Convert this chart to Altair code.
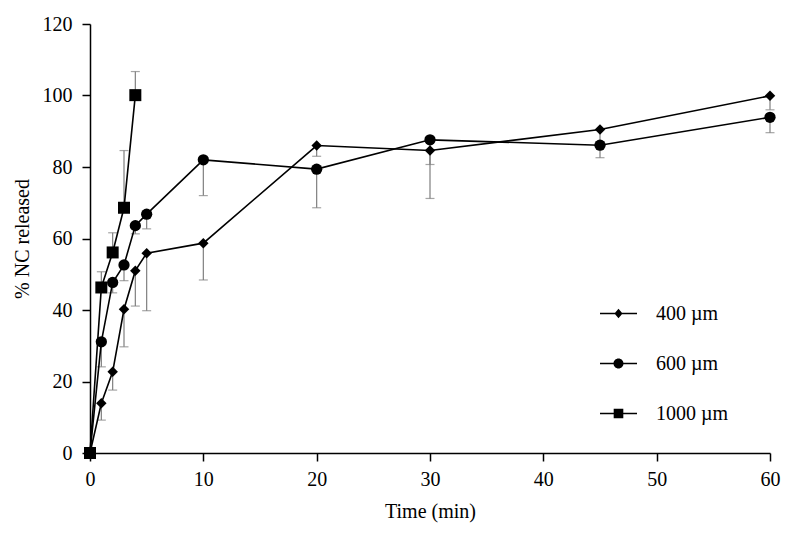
import altair as alt
import pandas as pd

# ---- data ----
series_names = ["400 µm", "600 µm", "1000 µm"]

time_400 = [0, 1, 2, 3, 4, 5, 10, 20, 30, 45, 60]
pct_400 = [0, 13.9, 22.7, 40.2, 51.0, 55.9, 58.7, 86.0, 84.6, 90.5, 99.9]
err_400 = [0, 9.2, 17.6, 29.7, 41.1, 39.8, 48.4, 83.0, 80.7, 87.0, 96.0]

time_600 = [0, 1, 2, 3, 4, 5, 10, 20, 30, 45, 60]
pct_600 = [0, 31.1, 47.7, 52.6, 63.6, 66.8, 82.0, 79.4, 87.6, 86.1, 93.9]
err_600 = [0, 24.1, 44.8, 48.2, 61.3, 62.7, 72.0, 68.6, 71.2, 82.6, 89.6]

time_1000 = [0, 1, 2, 3, 4]
pct_1000 = [0, 46.3, 56.1, 68.6, 100.1]
err_1000 = [0, 50.7, 61.6, 84.6, 106.7]

x_ticks = [0, 10, 20, 30, 40, 50, 60]
y_ticks = [0, 20, 40, 60, 80, 100, 120]

rows = []
for name, ts, ps, es in [
    (series_names[0], time_400, pct_400, err_400),
    (series_names[1], time_600, pct_600, err_600),
    (series_names[2], time_1000, pct_1000, err_1000),
]:
    for t, p, e in zip(ts, ps, es):
        rows.append({"series": name, "time": t, "pct": p, "err": e})
df = pd.DataFrame(rows)

FONT = "Liberation Serif"

x_enc = alt.X("time:Q", scale=alt.Scale(domain=[0, 60], nice=False),
              axis=alt.Axis(values=x_ticks, title="Time (min)", labelFlush=False))
y_enc = alt.Y("pct:Q", scale=alt.Scale(domain=[0, 120], nice=False),
              axis=alt.Axis(values=y_ticks, title="% NC released", labelFlush=False))

base = alt.Chart(df)

err_rule = base.mark_rule(color="#7f7f7f", strokeWidth=1.2).encode(
    x=x_enc, y=y_enc, y2="err:Q", detail="series:N")
err_cap = base.mark_tick(color="#7f7f7f", orient="horizontal", size=9, thickness=1.2).encode(
    x="time:Q", y="err:Q", detail="series:N")

lines = base.mark_line(color="black", strokeWidth=1.6).encode(
    x="time:Q", y="pct:Q", detail="series:N", order="time:Q")

marker_shapes = ["diamond", "circle", "square"]
marker_sizes = [110, 144, 121]
points = base.mark_point(filled=True, color="black", opacity=1).encode(
    x="time:Q", y="pct:Q",
    shape=alt.Shape("series:N", scale=alt.Scale(domain=series_names, range=marker_shapes), legend=None),
    size=alt.Size("series:N", scale=alt.Scale(domain=series_names, range=marker_sizes), legend=None),
)

# legend symbols: line (thin filled bar) + marker, as custom paths (unit = half symbol width)
BAR = "M-1,-0.042H1V0.042H-1Z"
legend_paths = [
    BAR + "M0,-0.26L0.22,0L0,0.26L-0.22,0Z",
    BAR + "M0.27,0A0.27,0.27 0 1,1 -0.27,0A0.27,0.27 0 1,1 0.27,0Z",
    BAR + "M-0.26,-0.26H0.26V0.26H-0.26Z",
]
legend_layer = base.transform_filter("false").mark_point(
    filled=True, color="black", opacity=1
).encode(
    x="time:Q", y="pct:Q",
    shape=alt.Shape("series:N", scale=alt.Scale(domain=series_names, range=legend_paths),
                    legend=alt.Legend(title=None, orient="none", legendX=509, legendY=270,
                                      padding=0, symbolSize=1369,
                                      symbolFillColor="black",
                                      symbolOpacity=1, labelFont=FONT, labelFontSize=20,
                                      labelColor="black", labelOffset=18, rowPadding=20)),
)

chart = alt.layer(err_rule, err_cap, lines, points, legend_layer).resolve_scale(
    shape="independent"
).properties(
    width=680, height=429,
    autosize=alt.AutoSizeParams(type="none"),
    padding={"left": 82, "top": 16, "right": 22, "bottom": 73},
).configure_view(stroke=None).configure_axis(
    grid=False, domainColor="black", domainWidth=1.5, tickColor="black", tickWidth=1.5,
    tickSize=8, labelFont=FONT, labelFontSize=20, labelColor="black",
    titleFont=FONT, titleFontSize=20, titleFontWeight="normal", titleColor="black",
).configure_axisY(labelPadding=10, titlePadding=10).configure_axisX(
    labelPadding=8, titlePadding=12)

chart.save("out.html", embed_options={"renderer": "svg", "actions": False})
